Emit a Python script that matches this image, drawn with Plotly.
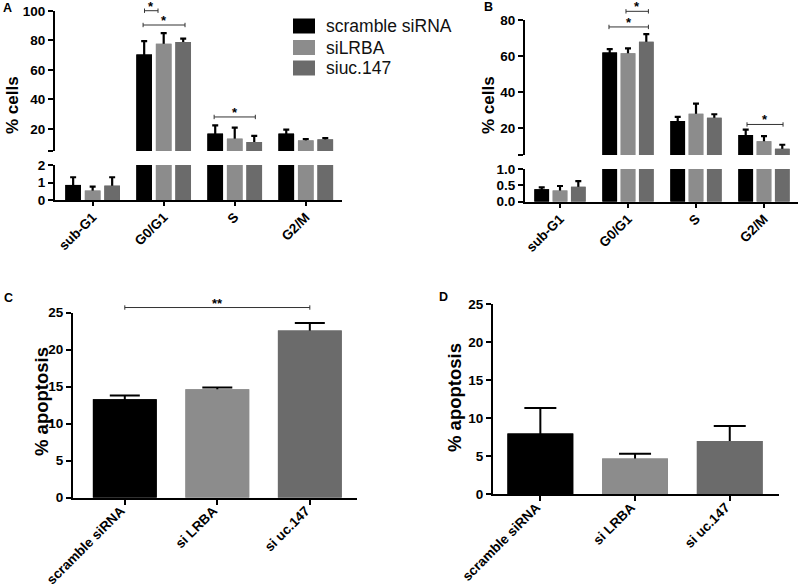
import plotly.graph_objects as go

W, H = 800, 587

# ---------------- data ----------------
phases = ["sub-G1", "G0/G1", "S", "G2/M"]
series_names = ["scramble siRNA", "siLRBA", "siuc.147"]
series_colors = ["#000000", "#8c8c8c", "#6b6b6b"]

# Panel A (% cells)
a_scramble = [0.86, 70.5, 16.8, 16.8]
a_silrba = [0.54, 77.8, 13.4, 12.2]
a_siuc147 = [0.82, 78.9, 11.1, 12.9]
a_scramble_err = [0.44, 9.1, 5.6, 2.7]
a_silrba_err = [0.23, 7.2, 7.5, 0.9]
a_siuc147_err = [0.48, 2.3, 4.1, 0.9]

# Panel B (% cells)
b_scramble = [0.38, 62.1, 23.9, 16.1]
b_silrba = [0.34, 61.6, 28.0, 12.6]
b_siuc147 = [0.46, 68.0, 25.8, 8.5]
b_scramble_err = [0.06, 1.9, 2.3, 3.0]
b_silrba_err = [0.14, 2.8, 5.6, 2.9]
b_siuc147_err = [0.17, 4.3, 1.9, 2.2]

# Panels C, D (% apoptosis)
apop_groups = ["scramble siRNA", "si LRBA", "si uc.147"]
c_apoptosis = [13.3, 14.65, 22.6]
c_apoptosis_err = [0.5, 0.25, 1.0]
d_apoptosis = [8.0, 4.7, 7.0]
d_apoptosis_err = [3.35, 0.65, 2.0]

# significance brackets: (x start, x end in category units, y value, label)
a_sig = [(0.73, 0.92, 100.2, "*"), (0.71, 1.30, 90.5, "*"), (1.71, 2.29, 28.1, "*")]
b_sig = [(0.97, 1.30, 85.0, "*"), (0.72, 1.30, 76.3, "*"), (2.75, 3.28, 22.0, "*")]
c_sig = [(0.0, 2.0, 25.7, "**")]

# ---------------- layout geometry (pixels) ----------------
A_X = (55, 342); A_LO = (165, 200); A_UP = (11, 151)
B_X = (525, 798); B_LO = (169, 201.7); B_UP = (20.3, 155)
C_X = (73, 357); C_Y = (312.7, 497.7)
D_X = (493, 779); D_Y = (304.3, 494.3)

A_XR = [-0.53, 3.51]; A_LOR = [0, 2]; A_UPR = [5, 100]
B_XR = [-0.515, 3.5]; B_LOR = [0, 1]; B_UPR = [5, 80]
C_XR = [-0.56, 2.51]; D_XR = [-0.5, 2.52]; CD_YR = [0, 25]


def xdom(px):
    return [px[0] / W, px[1] / W]


def ydom(py):
    return [1 - py[1] / H, 1 - py[0] / H]


def paper_y(v, py, rng):
    frac = (v - rng[0]) / (rng[1] - rng[0])
    p = py[1] - frac * (py[1] - py[0])
    return 1 - p / H


FONT = "Liberation Sans, Arial, sans-serif"

fig = go.Figure()


def add_bars(x, y, errs, xa, ya, color, width, offset, capw, thick):
    # bars carrying the error bars (lower half hidden by the cover bar)
    fig.add_trace(go.Bar(
        x=x, y=y, xaxis=xa, yaxis=ya, width=width, offset=offset,
        marker=dict(color=color, line=dict(width=0)),
        error_y=dict(type="data", symmetric=False, array=errs,
                     arrayminus=[v * 0.5 for v in y],
                     color="black", thickness=thick, width=capw),
        showlegend=False, hoverinfo="skip"))
    # cover bars on top
    fig.add_trace(go.Bar(
        x=x, y=y, xaxis=xa, yaxis=ya, width=width, offset=offset,
        marker=dict(color=color, line=dict(width=0)),
        showlegend=False, hoverinfo="skip"))


a_series = [(a_scramble, a_scramble_err), (a_silrba, a_silrba_err), (a_siuc147, a_siuc147_err)]
b_series = [(b_scramble, b_scramble_err), (b_silrba, b_silrba_err), (b_siuc147, b_siuc147_err)]

A_SP, A_W = 0.2746, 0.22
B_SP, B_W = 0.269, 0.216
for i, ((av, ae), (bv, be)) in enumerate(zip(a_series, b_series)):
    col = series_colors[i]
    for ya in ["y", "y2"]:
        add_bars(phases, av, ae, "x", ya, col, A_W, -A_W / 2 + (i - 1) * A_SP, 3, 2.2)
    for ya in ["y3", "y4"]:
        add_bars(phases, bv, be, "x2", ya, col, B_W, -B_W / 2 + (i - 1) * B_SP, 3, 2.2)

add_bars(apop_groups, c_apoptosis, c_apoptosis_err, "x3", "y5", series_colors, 0.69, -0.345, 15, 2)
add_bars(apop_groups, d_apoptosis, d_apoptosis_err, "x4", "y6", series_colors, 0.695, -0.3475, 16, 2)

# ---------------- axes ----------------
common = dict(showline=True, linecolor="black", linewidth=2, ticks="outside",
              ticklen=5, tickwidth=2, tickcolor="black", showgrid=False,
              zeroline=False, fixedrange=True, automargin=False)
tf_ab = dict(family=FONT, size=13.5, color="black", weight="bold")
tf_cd = dict(family=FONT, size=13.5, color="black", weight="bold")

fig.update_layout(
    xaxis=dict(common, domain=xdom(A_X), anchor="y", type="category", range=A_XR,
               tickangle=-45, tickfont=tf_ab, ticklen=4, ticklabelstandoff=-2),
    yaxis=dict(common, domain=ydom(A_LO), anchor="x", range=A_LOR,
               tickvals=[0, 1, 2], tickfont=tf_ab),
    yaxis2=dict(common, domain=ydom(A_UP), anchor="x", range=A_UPR,
                tickvals=[5, 20, 40, 60, 80, 100],
                ticktext=["", "20", "40", "60", "80", "100"], tickfont=tf_ab),
    xaxis2=dict(common, domain=xdom(B_X), anchor="y3", type="category", range=B_XR,
                tickangle=-45, tickfont=tf_ab, ticklen=4, ticklabelstandoff=-2),
    yaxis3=dict(common, domain=ydom(B_LO), anchor="x2", range=B_LOR,
                tickvals=[0, 0.5, 1], ticktext=["0.0", "0.5", "1.0"], tickfont=tf_ab),
    yaxis4=dict(common, domain=ydom(B_UP), anchor="x2", range=B_UPR,
                tickvals=[5, 20, 40, 60, 80], ticktext=["", "20", "40", "60", "80"],
                tickfont=tf_ab),
    xaxis3=dict(common, domain=xdom(C_X), anchor="y5", type="category", range=C_XR,
                tickangle=-45, tickfont=tf_cd, ticklabelstandoff=-7, ticklabelshift=-4),
    yaxis5=dict(common, domain=ydom(C_Y), anchor="x3", range=CD_YR,
                tickvals=[0, 5, 10, 15, 20, 25], tickfont=tf_cd),
    xaxis4=dict(common, domain=xdom(D_X), anchor="y6", type="category", range=D_XR,
                tickangle=-45, tickfont=tf_cd, ticklabelstandoff=-7, ticklabelshift=-4),
    yaxis6=dict(common, domain=ydom(D_Y), anchor="x4", range=CD_YR,
                tickvals=[0, 5, 10, 15, 20, 25], tickfont=tf_cd),
)

# ---------------- significance brackets ----------------
shapes = []
annotations = []


def add_sig(sigs, xref, py, rng, fsize):
    for x0, x1, v, lab in sigs:
        yp = paper_y(v, py, rng)
        tick = 2.2 / H
        line = dict(color="#333333", width=1)
        shapes.append(dict(type="line", xref=xref, yref="paper", x0=x0, x1=x1, y0=yp, y1=yp, line=line))
        for xx in (x0, x1):
            shapes.append(dict(type="line", xref=xref, yref="paper", x0=xx, x1=xx,
                               y0=yp - tick, y1=yp + tick, line=line))
        annotations.append(dict(text=lab, xref=xref, yref="paper", x=(x0 + x1) / 2,
                                y=yp + 4.5 / H, xanchor="center", yanchor="middle",
                                showarrow=False,
                                font=dict(family=FONT, size=fsize, color="black", weight="bold")))


add_sig(a_sig, "x", A_UP, A_UPR, 13)
add_sig(b_sig, "x2", B_UP, B_UPR, 13)
add_sig(c_sig, "x3", C_Y, CD_YR, 13)

# ---------------- manual legend ----------------
leg_centers = [26, 47.5, 68]
for name, col, cy in zip(series_names, series_colors, leg_centers):
    shapes.append(dict(type="rect", xref="paper", yref="paper",
                       x0=293 / W, x1=315 / W, y0=1 - (cy + 7.5) / H, y1=1 - (cy - 7.5) / H,
                       fillcolor=col, line=dict(width=0)))
    annotations.append(dict(text=name, xref="paper", yref="paper", x=324 / W, y=1 - cy / H,
                            xanchor="left", yanchor="middle", showarrow=False,
                            font=dict(family=FONT, size=17.5, color="#111111")))


# ---------------- titles & panel letters ----------------
def label(text, px, py, size, angle=0):
    annotations.append(dict(text=text, xref="paper", yref="paper", x=px / W, y=1 - py / H,
                            xanchor="center", yanchor="middle", showarrow=False, textangle=angle,
                            font=dict(family=FONT, size=size, color="black", weight="bold")))


label("% cells", 12, 105, 17, -90)
label("% cells", 488, 105, 17, -90)
label("% apoptosis", 41, 402, 18.5, -90)
label("% apoptosis", 454, 398, 18.5, -90)
label("A", 7, 8, 12.5)
label("B", 488, 7, 12.5)
label("C", 8, 298, 12.5)
label("D", 443, 297, 12.5)

fig.update_layout(
    shapes=shapes, annotations=annotations,
    barmode="overlay", template="none",
    width=W, height=H, margin=dict(l=0, r=0, t=0, b=0),
    paper_bgcolor="white", plot_bgcolor="white", showlegend=False,
    font=dict(family=FONT, color="black"),
)

fig.write_html("out.html", config={"displayModeBar": False},
               post_script="document.body.style.margin='0';")
